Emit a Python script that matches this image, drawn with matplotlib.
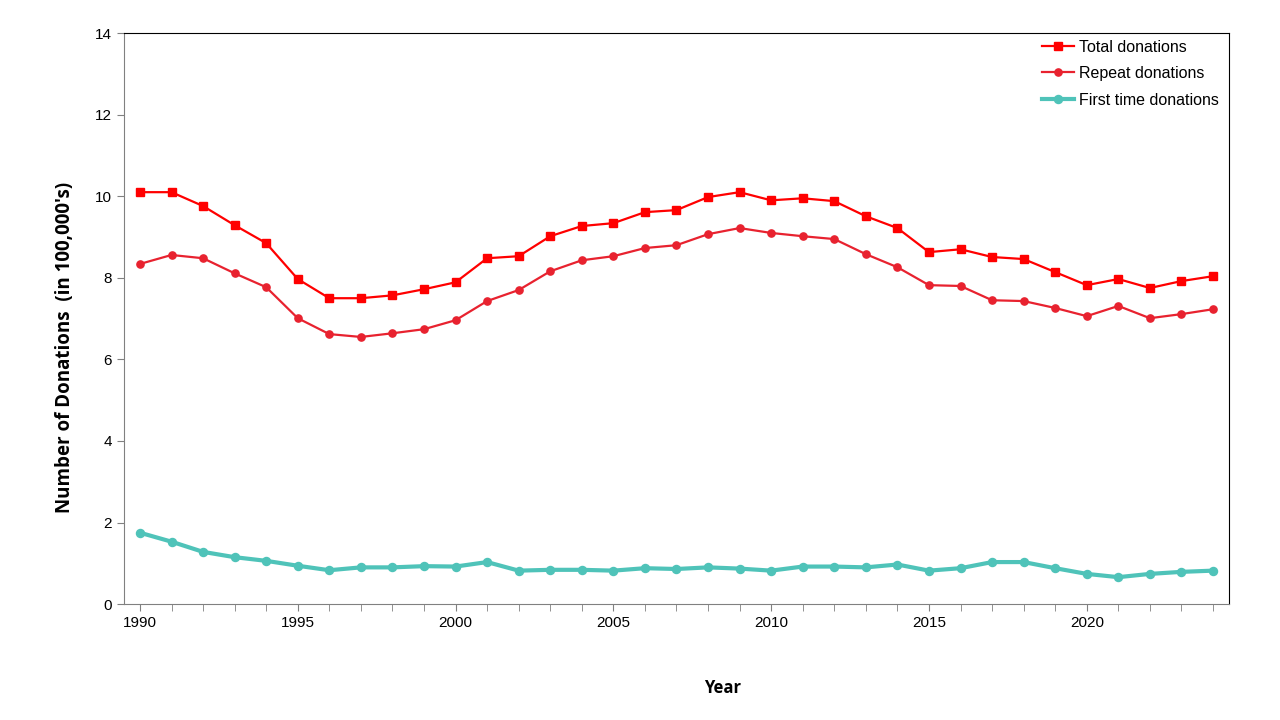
import numpy as np
import matplotlib
matplotlib.use("Agg")
import matplotlib.pyplot as plt
from matplotlib.ticker import MultipleLocator

plt.rcParams['font.family'] = ['Liberation Sans', 'DejaVu Sans']

years = list(range(1990, 2025))

total = [10.1, 10.1, 9.76, 9.29, 8.85, 7.97, 7.50, 7.50, 7.57, 7.72,
         7.89, 8.48, 8.53, 9.02, 9.27, 9.34, 9.61, 9.66, 9.98, 10.1,
         9.90, 9.95, 9.88, 9.51, 9.22, 8.63, 8.70, 8.51, 8.46, 8.14,
         7.82, 7.97, 7.75, 7.92, 8.04]

repeat = [8.34, 8.56, 8.48, 8.11, 7.77, 7.01, 6.62, 6.55, 6.64, 6.74,
          6.96, 7.43, 7.70, 8.16, 8.43, 8.53, 8.73, 8.80, 9.07, 9.22,
          9.10, 9.02, 8.95, 8.58, 8.26, 7.82, 7.80, 7.45, 7.43, 7.26,
          7.06, 7.31, 7.01, 7.11, 7.23]

first_time = [1.75, 1.53, 1.28, 1.15, 1.06, 0.94, 0.83, 0.90, 0.90, 0.93,
              0.92, 1.03, 0.82, 0.84, 0.84, 0.82, 0.88, 0.86, 0.90, 0.87,
              0.82, 0.92, 0.92, 0.90, 0.97, 0.82, 0.88, 1.03, 1.03, 0.88,
              0.74, 0.66, 0.74, 0.79, 0.82]

fig = plt.figure(figsize=(12.8, 7.2), dpi=100)
ax = fig.add_axes([0.097, 0.161, 0.863, 0.793])

ax.plot(years, total, color="#FF0000", lw=1.6, marker="s", ms=5.5,
        label="Total donations")
ax.plot(years, repeat, color="#E8222F", lw=1.6, marker="o", ms=5.2,
        label="Repeat donations")
ax.plot(years, first_time, color="#4FC3B9", lw=3, marker="o", ms=5.8,
        label="First time donations")

ax.set_xlim(1989.5, 2024.5)
ax.set_ylim(0, 14)
ax.xaxis.set_major_locator(MultipleLocator(5))
ax.xaxis.set_minor_locator(MultipleLocator(1))
ax.yaxis.set_major_locator(MultipleLocator(2))

ax.tick_params(axis="both", which="both", direction="out", colors="#808080",
               labelcolor="black", labelsize=11)
ax.tick_params(axis="x", which="both", length=5)
ax.tick_params(axis="y", length=5, pad=4)

for side in ["left", "bottom"]:
    ax.spines[side].set_color("#808080")
for side in ["top", "right"]:
    ax.spines[side].set_color("black")

ax.set_xlabel("Year", fontsize=12, fontweight="bold", family="Open Sans")
ax.set_ylabel("Number of Donations  (in 100,000's)", fontsize=13.5,
              fontweight="bold", family="Open Sans")
ax.xaxis.set_label_coords(0.542, -0.131)
ax.yaxis.set_label_coords(-0.0443, 0.45)

ax.legend(loc="upper right", bbox_to_anchor=(1.0, 1.007), frameon=False,
          fontsize=11.5, handlelength=2.0, borderaxespad=0.25,
          labelspacing=0.72, handletextpad=0.3)

fig.savefig("out.png", dpi=100)
